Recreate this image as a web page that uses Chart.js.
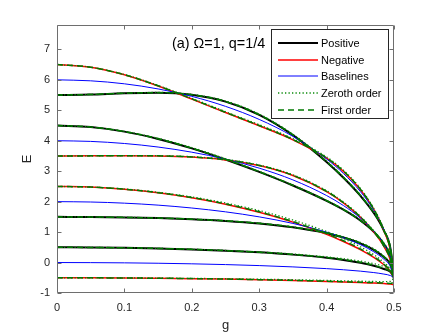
<!DOCTYPE html>
<html>
<head>
<meta charset="utf-8">
<title>Energy spectrum</title>
<script src="https://cdn.jsdelivr.net/npm/chart.js@4.4.0/dist/chart.umd.min.js"></script>
<style>
  html, body { margin: 0; padding: 0; background: #fff; }
  #wrap { position: relative; width: 436px; height: 334px; font-family: "Liberation Sans", Arial, sans-serif; color: #000; }
  #plot { position: absolute; left: 0; top: 0; }
  .note { position: absolute; left: 172px; top: 35px; font-size: 14.4px; white-space: nowrap; }
  .legend { position: absolute; left: 271px; top: 29px; width: 118px; height: 90px;
            border: 1px solid #262626; background: #fff; box-sizing: border-box; }
  .legend .row { position: absolute; left: 0; width: 116px; height: 16px; }
  .legend svg { position: absolute; left: 6px; top: 0; }
  .legend span { position: absolute; left: 49px; top: 1px; font-size: 11px; line-height: 14px; white-space: nowrap; }
</style>
</head>
<body>
<div id="wrap">
  <canvas id="plot" width="436" height="334"></canvas>
  <div class="note">(a) Ω=1, q=1/4</div>
  <div class="legend" id="legend"></div>
</div>
<script>
// ----- Data -----
const gPoints = [0, 0.05, 0.1, 0.15, 0.2, 0.25, 0.3, 0.35, 0.4, 0.425, 0.45, 0.47, 0.485, 0.495, 0.5];

// one row per level group (m = 0..3)
const positive = [
  [0.5, 0.496, 0.484, 0.462, 0.432, 0.390, 0.335, 0.260, 0.157, 0.086, -0.007, -0.107, -0.212, -0.312, -0.5],
  [1.5, 1.496, 1.483, 1.460, 1.423, 1.367, 1.284, 1.158, 0.965, 0.822, 0.631, 0.418, 0.179, -0.079, -0.5],
  [4.5, 4.449, 4.299, 4.059, 3.749, 3.383, 2.976, 2.530, 2.027, 1.736, 1.382, 1.010, 0.606, 0.162, -0.5],
  [5.5, 5.518, 5.558, 5.575, 5.507, 5.283, 4.850, 4.184, 3.303, 2.785, 2.197, 1.627, 1.048, 0.433, -0.5]
];
const negative = [
  [-0.5, -0.501, -0.507, -0.516, -0.528, -0.544, -0.565, -0.590, -0.622, -0.640, -0.657, -0.672, -0.690, -0.707, -0.73],
  [2.5, 2.477, 2.407, 2.291, 2.128, 1.916, 1.651, 1.327, 0.926, 0.692, 0.424, 0.168, -0.074, -0.296, -0.5],
  [3.5, 3.503, 3.507, 3.501, 3.465, 3.371, 3.184, 2.857, 2.328, 1.960, 1.491, 1.006, 0.527, 0.058, -0.5],
  [6.5, 6.412, 6.164, 5.798, 5.368, 4.925, 4.490, 4.030, 3.427, 2.993, 2.400, 1.743, 1.053, 0.361, -0.5]
];
const baselines = [
  [0, -0.003, -0.010, -0.023, -0.042, -0.067, -0.1, -0.143, -0.2, -0.237, -0.282, -0.329, -0.379, -0.430, -0.5],
  [2, 1.988, 1.950, 1.885, 1.791, 1.665, 1.5, 1.285, 1.0, 0.817, 0.590, 0.353, 0.108, -0.147, -0.5],
  [4, 3.978, 3.909, 3.793, 3.624, 3.397, 3.1, 2.714, 2.2, 1.871, 1.462, 1.035, 0.594, 0.135, -0.5],
  [6, 5.967, 5.869, 5.701, 5.457, 5.129, 4.7, 4.142, 3.4, 2.924, 2.333, 1.718, 1.080, 0.417, -0.5]
];
const zerothPos = [
  [0.5, 0.496, 0.485, 0.465, 0.437, 0.398, 0.347, 0.280, 0.187, 0.126, 0.048, -0.037, -0.132, -0.242, -0.5],
  [1.5, 1.496, 1.484, 1.463, 1.428, 1.374, 1.294, 1.173, 0.985, 0.847, 0.661, 0.448, 0.209, -0.059, -0.5],
  [4.5, 4.452, 4.309, 4.079, 3.774, 3.408, 2.996, 2.545, 2.042, 1.751, 1.402, 1.035, 0.636, 0.192, -0.5],
  [5.5, 5.520, 5.563, 5.585, 5.522, 5.303, 4.875, 4.214, 3.333, 2.815, 2.227, 1.657, 1.078, 0.453, -0.5]
];
const zerothNeg = [
  [-0.5, -0.501, -0.505, -0.511, -0.520, -0.532, -0.547, -0.565, -0.587, -0.600, -0.612, -0.622, -0.625, -0.617, -0.5],
  [2.5, 2.479, 2.415, 2.307, 2.155, 1.956, 1.706, 1.397, 1.016, 0.787, 0.519, 0.258, 0.006, -0.236, -0.5],
  [3.5, 3.504, 3.510, 3.507, 3.475, 3.386, 3.204, 2.882, 2.358, 1.990, 1.521, 1.036, 0.552, 0.078, -0.5],
  [6.5, 6.415, 6.174, 5.816, 5.393, 4.955, 4.525, 4.070, 3.467, 3.033, 2.440, 1.778, 1.083, 0.381, -0.5]
];
const firstPos = [
  [0.5, 0.496, 0.484, 0.463, 0.433, 0.392, 0.338, 0.265, 0.165, 0.096, 0.007, -0.090, -0.192, -0.295, -0.5],
  [1.5, 1.496, 1.483, 1.461, 1.424, 1.369, 1.287, 1.162, 0.970, 0.828, 0.638, 0.426, 0.187, -0.074, -0.5],
  [4.5, 4.450, 4.302, 4.064, 3.755, 3.389, 2.981, 2.534, 2.031, 1.740, 1.387, 1.016, 0.614, 0.170, -0.5],
  [5.5, 5.519, 5.559, 5.578, 5.511, 5.288, 4.856, 4.192, 3.311, 2.793, 2.205, 1.635, 1.056, 0.438, -0.5]
];
const firstNeg = [
  [-0.5, -0.501, -0.507, -0.515, -0.526, -0.541, -0.561, -0.584, -0.613, -0.630, -0.646, -0.660, -0.674, -0.685, -0.64],
  [2.5, 2.478, 2.409, 2.295, 2.135, 1.926, 1.665, 1.345, 0.948, 0.716, 0.448, 0.191, -0.054, -0.281, -0.5],
  [3.5, 3.503, 3.508, 3.503, 3.468, 3.375, 3.189, 2.863, 2.336, 1.968, 1.499, 1.014, 0.533, 0.063, -0.5],
  [6.5, 6.413, 6.167, 5.803, 5.374, 4.933, 4.499, 4.040, 3.437, 3.003, 2.410, 1.752, 1.061, 0.366, -0.5]
];

const xTicks = [0, 0.1, 0.2, 0.3, 0.4, 0.5];
const xTickLabels = ['0', '0.1', '0.2', '0.3', '0.4', '0.5'];
const yTicks = [-1, 0, 1, 2, 3, 4, 5, 6, 7];

// ----- Styles -----
const styles = {
  pos:   { label: 'Positive',     color: '#000000', width: 2.0, dash: [],         order: 4 },
  neg:   { label: 'Negative',     color: '#ff0000', width: 1.5, dash: [],         order: 3 },
  base:  { label: 'Baselines',    color: '#0000ff', width: 1.0, dash: [],         order: 2 },
  zero:  { label: 'Zeroth order', color: '#0a8a0a', width: 1.3, dash: [1.3, 2.2], order: 1 },
  first: { label: 'First order',  color: '#007a00', width: 1.5, dash: [6, 4],     order: 0 }
};
const axisColor = '#6e6e6e';
const textColor = '#262626';

function curve(values, st) {
  return {
    label: st.label,
    data: gPoints.map((g, i) => ({ x: g, y: values[i] })),
    borderColor: st.color,
    borderWidth: st.width,
    borderDash: st.dash,
    order: st.order,
    pointRadius: 0,
    fill: false,
    cubicInterpolationMode: 'monotone'
  };
}

const datasets = [];
[[positive, styles.pos], [negative, styles.neg], [baselines, styles.base],
 [zerothPos, styles.zero], [zerothNeg, styles.zero],
 [firstPos, styles.first], [firstNeg, styles.first]].forEach(([rows, st]) => {
  rows.forEach(r => datasets.push(curve(r, st)));
});

// box round the plot with inward ticks on all four sides
const frame = {
  id: 'frame',
  afterDatasetsDraw(chart) {
    const { ctx, chartArea: a, scales: { x, y } } = chart;
    const tl = 4;
    const L = Math.round(a.left) + 0.5, R = Math.round(a.right) - 0.5;
    const T = Math.round(a.top) + 0.5, B = Math.round(a.bottom) - 0.5;
    ctx.save();
    ctx.strokeStyle = axisColor;
    ctx.lineWidth = 1;
    ctx.beginPath();
    ctx.rect(L, T, R - L, B - T);
    xTicks.forEach(v => {
      const px = Math.round(x.getPixelForValue(v)) + 0.5;
      ctx.moveTo(px, B); ctx.lineTo(px, B - tl);
      ctx.moveTo(px, T); ctx.lineTo(px, T + tl);
    });
    yTicks.forEach(v => {
      const py = Math.round(y.getPixelForValue(v)) + 0.5;
      ctx.moveTo(L, py); ctx.lineTo(L + tl, py);
      ctx.moveTo(R, py); ctx.lineTo(R - tl, py);
    });
    ctx.stroke();
    ctx.restore();
  }
};

Chart.defaults.font.family = '"Liberation Sans", Arial, sans-serif';
Chart.defaults.color = textColor;

new Chart(document.getElementById('plot'), {
  type: 'line',
  data: { datasets },
  options: {
    responsive: false,
    animation: false,
    layout: { padding: { left: 0, right: 42, top: 25, bottom: 0 } },
    plugins: { legend: { display: false }, tooltip: { enabled: false } },
    scales: {
      x: {
        type: 'linear', min: 0, max: 0.5,
        grid: { display: false, drawTicks: false }, border: { display: false },
        afterBuildTicks: s => { s.ticks = xTicks.map(v => ({ value: v })); },
        afterFit: s => { s.height = 41; },
        ticks: { font: { size: 11 }, padding: 8, maxRotation: 0,
                 callback: (v) => xTickLabels[xTicks.indexOf(v)] },
        title: { display: true, text: 'g', font: { size: 13 }, padding: { top: 0, bottom: 0.5 } }
      },
      y: {
        type: 'linear', min: -1, max: 7.8,
        grid: { display: false, drawTicks: false }, border: { display: false },
        afterBuildTicks: s => { s.ticks = yTicks.map(v => ({ value: v })); },
        afterFit: s => { s.width = 57; },
        ticks: { font: { size: 11 }, padding: 7, callback: v => String(v) },
        title: { display: true, text: 'E', font: { size: 13 }, padding: { top: 20, bottom: 0 } }
      }
    }
  },
  plugins: [frame]
});

// ----- Legend (inside the axes, top right) -----
function buildLegend() {
  const box = document.getElementById('legend');
  const rowTops = [5, 21.5, 38, 55, 72];
  ['pos', 'neg', 'base', 'zero', 'first'].forEach((k, i) => {
    const st = styles[k];
    const row = document.createElement('div');
    row.className = 'row';
    row.style.top = rowTops[i] + 'px';
    row.innerHTML =
      `<svg width="40" height="16"><line x1="0" y1="8" x2="40" y2="8" stroke="${st.color}"` +
      ` stroke-width="${st.width}" stroke-dasharray="${st.dash.join(' ') || 'none'}"/></svg>` +
      `<span>${st.label}</span>`;
    box.appendChild(row);
  });
}
buildLegend();
</script>
</body>
</html>
